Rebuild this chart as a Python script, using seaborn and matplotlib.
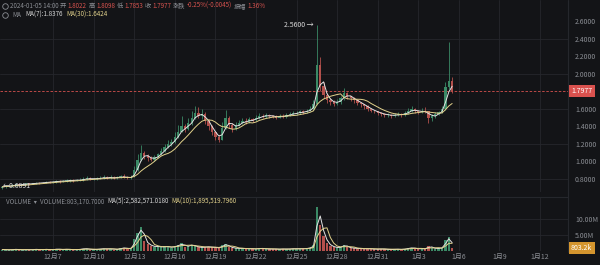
import numpy as np
import pandas as pd
import matplotlib
matplotlib.use("Agg")
import matplotlib.pyplot as plt
import matplotlib.dates as mdates
from matplotlib.lines import Line2D
import seaborn as sns

# ---------------- data (6h candles, from 2023-12-03 06:00) ----------------
first_open = 0.70
close = [0.71, 0.72, 0.72,
         0.73, 0.74, 0.73, 0.74,
         0.75, 0.74, 0.75, 0.76,
         0.75, 0.76, 0.77, 0.76,
         0.77, 0.78, 0.77, 0.78,
         0.78, 0.79, 0.78, 0.79,
         0.79, 0.80, 0.81, 0.80,
         0.80, 0.81, 0.81, 0.82,
         0.81, 0.82, 0.81, 0.82,
         0.83, 0.82, 0.81, 0.82,
         0.90, 1.02, 1.10, 1.06,
         1.04, 1.02, 1.05, 1.08,
         1.12, 1.16, 1.20, 1.22,
         1.28, 1.34, 1.40, 1.37,
         1.44, 1.50, 1.55, 1.52,
         1.54, 1.46, 1.40, 1.34,
         1.28, 1.25, 1.38, 1.50,
         1.42, 1.37, 1.42, 1.44,
         1.46, 1.45, 1.48, 1.47,
         1.50, 1.52, 1.51, 1.53,
         1.52, 1.51, 1.50, 1.52,
         1.51, 1.53, 1.54, 1.55,
         1.55, 1.57, 1.56, 1.58,
         1.60, 1.66, 2.10, 1.86,
         1.76, 1.70, 1.68, 1.66,
         1.68, 1.72, 1.78, 1.74,
         1.72, 1.70, 1.67, 1.65,
         1.63, 1.60, 1.58, 1.57,
         1.55, 1.54, 1.53, 1.53,
         1.52, 1.53, 1.54, 1.53,
         1.55, 1.58, 1.60, 1.57,
         1.56, 1.58, 1.57, 1.49,
         1.52, 1.54, 1.56, 1.60,
         1.85, 1.92, 1.80]
high = [0.72, 0.73, 0.73,
        0.74, 0.75, 0.75, 0.75,
        0.76, 0.76, 0.76, 0.77,
        0.77, 0.77, 0.78, 0.78,
        0.78, 0.79, 0.79, 0.79,
        0.80, 0.80, 0.80, 0.80,
        0.81, 0.82, 0.83, 0.82,
        0.81, 0.82, 0.83, 0.84,
        0.83, 0.84, 0.83, 0.83,
        0.85, 0.86, 0.83, 0.84,
        0.95, 1.08, 1.19, 1.12,
        1.08, 1.06, 1.07, 1.10,
        1.15, 1.20, 1.24, 1.26,
        1.33, 1.42, 1.52, 1.43,
        1.50, 1.58, 1.63, 1.62,
        1.60, 1.56, 1.48, 1.41,
        1.35, 1.30, 1.45, 1.59,
        1.52, 1.44, 1.45, 1.47,
        1.49, 1.49, 1.51, 1.50,
        1.53, 1.55, 1.54, 1.55,
        1.54, 1.53, 1.53, 1.54,
        1.54, 1.55, 1.56, 1.57,
        1.57, 1.59, 1.59, 1.60,
        1.63, 1.70, 2.56, 2.19,
        1.90, 1.78, 1.72, 1.70,
        1.71, 1.75, 1.84, 1.79,
        1.75, 1.73, 1.71, 1.68,
        1.66, 1.64, 1.61, 1.59,
        1.58, 1.56, 1.55, 1.55,
        1.54, 1.55, 1.56, 1.55,
        1.57, 1.61, 1.63, 1.61,
        1.59, 1.61, 1.62, 1.58,
        1.54, 1.56, 1.58, 1.63,
        1.90, 2.36, 1.96]
low = [0.689, 0.70, 0.71,
       0.71, 0.72, 0.72, 0.73,
       0.73, 0.73, 0.74, 0.74,
       0.74, 0.75, 0.75, 0.75,
       0.76, 0.76, 0.76, 0.77,
       0.77, 0.77, 0.77, 0.78,
       0.78, 0.78, 0.79, 0.79,
       0.79, 0.79, 0.80, 0.80,
       0.80, 0.80, 0.80, 0.80,
       0.81, 0.81, 0.80, 0.80,
       0.82, 0.89, 1.00, 1.03,
       1.01, 1.00, 1.01, 1.04,
       1.07, 1.11, 1.15, 1.18,
       1.21, 1.27, 1.33, 1.33,
       1.36, 1.42, 1.48, 1.49,
       1.48, 1.43, 1.36, 1.30,
       1.25, 1.22, 1.24, 1.37,
       1.38, 1.34, 1.36, 1.40,
       1.43, 1.43, 1.44, 1.45,
       1.46, 1.48, 1.49, 1.50,
       1.50, 1.49, 1.48, 1.49,
       1.50, 1.50, 1.52, 1.53,
       1.53, 1.54, 1.54, 1.55,
       1.57, 1.59, 1.64, 1.80,
       1.72, 1.67, 1.64, 1.63,
       1.64, 1.66, 1.70, 1.71,
       1.69, 1.67, 1.64, 1.62,
       1.60, 1.58, 1.56, 1.55,
       1.53, 1.52, 1.51, 1.51,
       1.50, 1.51, 1.52, 1.51,
       1.52, 1.54, 1.56, 1.55,
       1.54, 1.55, 1.55, 1.44,
       1.46, 1.50, 1.53, 1.55,
       1.59, 1.83, 1.78]
volume_m = [0.3, 0.2, 0.2,
            0.3, 0.4, 0.2, 0.2,
            0.3, 0.2, 0.3, 0.4,
            0.2, 0.3, 0.4, 0.2,
            0.3, 0.5, 0.3, 0.3,
            0.4, 0.3, 0.2, 0.3,
            0.4, 0.6, 0.5, 0.3,
            0.3, 0.4, 0.5, 0.6,
            0.4, 0.6, 0.3, 0.4,
            0.7, 0.9, 0.5, 0.6,
            3.5, 5.5, 7.2, 3.0,
            2.0, 1.4, 1.2, 1.3,
            1.0, 1.3, 1.2, 0.9,
            1.4, 1.6, 2.2, 1.2,
            1.5, 1.8, 1.3, 1.0,
            0.9, 1.2, 1.1, 1.0,
            0.9, 0.8, 1.6, 2.0,
            1.1, 0.8, 0.7, 0.6,
            0.7, 0.5, 0.6, 0.5,
            0.5, 0.7, 0.6, 0.5,
            0.4, 0.5, 0.4, 0.4,
            0.5, 0.4, 0.5, 0.6,
            0.5, 0.6, 0.5, 0.7,
            0.9, 1.6, 13.6, 8.0,
            4.5, 2.2, 1.5, 1.0,
            0.9, 1.1, 1.8, 1.0,
            0.8, 0.7, 0.6, 0.6,
            0.5, 0.6, 0.5, 0.4,
            0.4, 0.5, 0.4, 0.3,
            0.3, 0.4, 0.4, 0.3,
            0.5, 0.7, 0.9, 0.6,
            0.5, 0.6, 0.5, 1.4,
            0.8, 0.6, 0.7, 0.9,
            3.2, 4.1, 0.8]
start_time = "2023-12-03 06:00"
tick_dates = ["2023-12-07", "2023-12-10", "2023-12-13", "2023-12-16", "2023-12-19",
              "2023-12-22", "2023-12-25", "2023-12-28", "2023-12-31", "2024-01-03",
              "2024-01-06", "2024-01-09", "2024-01-12"]
tick_labels = ["12月7", "12月10", "12月13", "12月16", "12月19", "12月22", "12月25",
               "12月28", "12月31", "1月3", "1月6", "1月9", "1月12"]
price_ticks = [0.8, 1.0, 1.2, 1.4, 1.6, 2.0, 2.2, 2.4, 2.6]
price_grid = [0.8, 1.2, 1.6, 2.0, 2.4]
vol_ticks = [5e6, 10e6]
vol_tick_labels = ["5.00M", "10.00M"]
last_price = 1.7977
max_price = 2.56
min_price = 0.6891

# ---------------- style ----------------
sns.set_theme(style="dark")
plt.rcParams["font.family"] = ["Noto Sans CJK SC", "DejaVu Sans"]
BG = "#131417"
GRID = "#25272c"
TXT = "#8b8e94"
UP = "#3b8a66"
DOWN = "#b3504c"
MA_W = "#e4e4e4"
MA_Y = "#e2d28c"
RED = "#d5524e"

W, H = 600, 265
fig = plt.figure(figsize=(6, 2.65), dpi=100, facecolor=BG)


def px_axes(l, t, r, b):
    return fig.add_axes([l / W, 1 - b / H, (r - l) / W, (b - t) / H])


axp = px_axes(0, 0, 568, 192)
axv = px_axes(0, 197, 568, 250.5)

t = pd.date_range(start_time, periods=len(close), freq="6h")
x = mdates.date2num(t.to_pydatetime())
opens = np.array([first_open] + close[:-1])
c = np.array(close)
hi = np.array(high)
lo = np.array(low)
vol = np.array(volume_m) * 1e6
up = c >= opens
cols = np.where(up, UP, DOWN)

ma_short = pd.Series(c).rolling(3, min_periods=1).mean()
ma_long = pd.Series(c).rolling(8, min_periods=1).mean()
vma_short = pd.Series(vol).rolling(2, min_periods=1).mean()
vma_long = pd.Series(vol).rolling(4, min_periods=1).mean()

d7 = mdates.date2num(pd.Timestamp("2023-12-07").to_pydatetime())
px_per_day = 13.53
xmin = d7 - 53 / px_per_day
xmax = d7 + 515 / px_per_day
tick_x = [mdates.date2num(pd.Timestamp(d).to_pydatetime()) for d in tick_dates]

for ax in (axp, axv):
    ax.set_facecolor(BG)
    ax.set_xlim(xmin, xmax)
    for tx in tick_x:
        ax.axvline(tx, color=GRID, lw=0.6, zorder=0)
    for s in ax.spines.values():
        s.set_visible(False)
    ax.grid(False)

# price panel
ytop = 2.6 + 21 * 0.011392
ybot = 2.6 - 171 * 0.011392
axp.set_ylim(ybot, ytop)
for g in price_grid:
    axp.axhline(g, color=GRID, lw=0.6, zorder=0)
axp.vlines(x, lo, hi, colors=cols, lw=0.6, zorder=2)
body_h = np.maximum(np.abs(c - opens), 0.004)
axp.bar(x, body_h, bottom=np.minimum(c, opens), width=0.17, color=cols, lw=0, zorder=3)
sns.lineplot(x=x, y=ma_short, ax=axp, color=MA_W, lw=0.7, legend=False, zorder=4)
sns.lineplot(x=x, y=ma_long, ax=axp, color=MA_Y, lw=0.7, legend=False, zorder=4)
axp.axhline(last_price, color=RED, lw=0.6, ls=(0, (3, 2)), zorder=1)
axp.set_xticks([])
axp.yaxis.tick_right()
axp.set_yticks(price_ticks)
axp.set_yticklabels([f"{v:.4f}" for v in price_ticks])
axp.tick_params(axis="y", length=0, pad=5, labelsize=5, labelcolor=TXT)
axp.set_xlabel("")
axp.set_ylabel("")

imax = int(np.argmax(hi))
axp.annotate(f"{max_price:.4f} →", xy=(x[imax], max_price), xytext=(-2, 0),
             textcoords="offset points", ha="right", va="center",
             color="#d8d8d8", fontsize=5, zorder=6)
imin = int(np.argmin(lo))
axp.annotate(f"←{min_price:.4f}", xy=(x[imin], min_price), xytext=(0, 2),
             textcoords="offset points", ha="left", va="center",
             color="#d8d8d8", fontsize=5, zorder=6)

# volume panel
axv.set_ylim(0, 53.5 * 0.3125e6)
for g in vol_ticks:
    axv.axhline(g, color=GRID, lw=0.6, zorder=0)
axv.axhline(axv.get_ylim()[1], color=GRID, lw=0.8, zorder=0, clip_on=False)
axv.bar(x, vol, width=0.17, color=cols, lw=0, zorder=3)
sns.lineplot(x=x, y=vma_short, ax=axv, color=MA_W, lw=0.7, legend=False, zorder=4)
sns.lineplot(x=x, y=vma_long, ax=axv, color=MA_Y, lw=0.7, legend=False, zorder=4)
axv.yaxis.tick_right()
axv.set_yticks(vol_ticks)
axv.set_yticklabels(vol_tick_labels)
axv.tick_params(axis="y", length=0, pad=5, labelsize=5, labelcolor=TXT)
axv.set_xticks(tick_x)
axv.set_xticklabels(tick_labels)
axv.tick_params(axis="x", length=0, pad=2, labelsize=5, labelcolor=TXT)
axv.set_xlabel("")
axv.set_ylabel("")

# right divider
fig.add_artist(Line2D([568 / W, 568 / W], [1 - 252 / H, 1], color=GRID, lw=0.8,
                      transform=fig.transFigure))

# boxes on right axis
fig.text(571 / W, 1 - 91 / H, f"{last_price:.4f}", color="white", fontsize=5,
         va="center", ha="left",
         bbox=dict(boxstyle="square,pad=0.35", fc="#d9514e", ec="none"))
fig.text(571 / W, 1 - 248 / H, "803.2k", color="white", fontsize=5,
         va="center", ha="left",
         bbox=dict(boxstyle="square,pad=0.35", fc="#d4952e", ec="none"))

# ---------------- header texts ----------------
renderer = fig.canvas.get_renderer()


def seq(x0, y, parts, size=4.5, gap=1.5):
    xx = x0
    for s, col in parts:
        tx = fig.text(xx / W, 1 - y / H, s, color=col, fontsize=size, va="center", ha="left")
        bb = tx.get_window_extent(renderer)
        xx = bb.x1 + gap


def circle(xc, y):
    fig.add_artist(Line2D([xc / W], [1 - y / H], marker="o", ms=4.0, mfc="none",
                          mec=TXT, mew=0.6, transform=fig.transFigure))


circle(5, 6)
seq(10, 6, [("2024-01-05 14:00", TXT), ("开", TXT), ("1.8022", RED), ("高", TXT),
            ("1.8098", RED), ("低", TXT), ("1.7853", RED), ("收", TXT), ("1.7977", RED),
            ("涨跌", TXT), ("-0.25%(-0.0045)", RED), ("振幅", TXT), ("1.36%", RED)])
circle(5, 15)
seq(12, 15, [("MA", TXT), ("MA(7):1.8376", "#d6d6d6"), ("MA(30):1.6424", MA_Y)], gap=4)
seq(6, 202, [("VOLUME  ▾", TXT), ("VOLUME:803,170.7000", TXT),
             ("MA(5):2,582,571.0180", "#d6d6d6"), ("MA(10):1,895,519.7960", MA_Y)], gap=3)

fig.savefig("out.png", dpi=100, facecolor=BG)
